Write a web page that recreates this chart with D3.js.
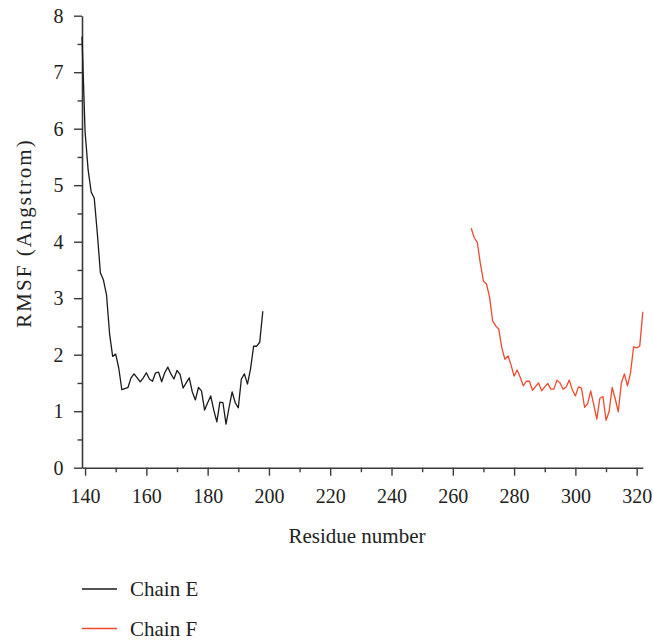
<!DOCTYPE html>
<html>
<head>
<meta charset="utf-8">
<script src="https://cdn.jsdelivr.net/npm/d3@7"></script>
<style>
  html, body { margin: 0; padding: 0; background: #fff; }
  svg { display: block; }
  text { font-family: "Liberation Serif", "DejaVu Serif", serif; fill: #222; }
</style>
</head>
<body>
<svg id="chart" width="653" height="642"></svg>
<script>
// RMSF per residue for each chain (Angstrom)
const chainEStart = 139;
const chainEValues = [
  7.63, 5.95, 5.27, 4.88, 4.77, 4.15, 3.45, 3.32, 3.06, 2.37,
  1.97, 2.01, 1.76, 1.38, 1.40, 1.42, 1.59, 1.66, 1.59, 1.52,
  1.59, 1.68, 1.57, 1.53, 1.68, 1.69, 1.52, 1.68, 1.78, 1.66,
  1.57, 1.72, 1.65, 1.41, 1.50, 1.59, 1.34, 1.20, 1.42, 1.36,
  1.02, 1.15, 1.27, 1.02, 0.81, 1.16, 1.15, 0.77, 1.07, 1.34,
  1.15, 1.06, 1.57, 1.66, 1.48, 1.75, 2.15, 2.15, 2.22, 2.77
];
const chainFStart = 266;
const chainFValues = [
  4.24, 4.07, 3.99, 3.61, 3.30, 3.25, 3.02, 2.60, 2.51, 2.45,
  2.12, 1.92, 1.98, 1.82, 1.62, 1.73, 1.60, 1.45, 1.53, 1.53,
  1.37, 1.44, 1.50, 1.36, 1.43, 1.49, 1.39, 1.39, 1.55, 1.50,
  1.39, 1.43, 1.55, 1.38, 1.27, 1.43, 1.41, 1.07, 1.13, 1.36,
  1.11, 0.86, 1.23, 1.26, 0.84, 0.99, 1.42, 1.22, 0.99, 1.50,
  1.66, 1.45, 1.68, 2.14, 2.12, 2.15, 2.76
];
const xTicks = [140, 160, 180, 200, 220, 240, 260, 280, 300, 320];
const xMinorTicks = [150, 170, 190, 210, 230, 250, 270, 290, 310];
const yTicks = [0, 1, 2, 3, 4, 5, 6, 7, 8];
const yMinorTicks = [0.5, 1.5, 2.5, 3.5, 4.5, 5.5, 6.5, 7.5];
const seriesNames = ["Chain E", "Chain F"];
const seriesColors = ["#1a1a1a", "#f04a2c"];

const toPoints = (start, vals) => vals.map((v, i) => ({ res: start + i, v }));
const series = [
  toPoints(chainEStart, chainEValues),
  toPoints(chainFStart, chainFValues)
];

const svg = d3.select("#chart");
const plotLeft = 82, plotRight = 642.8, plotTop = 15.7, plotBottom = 467.7;

const x = d3.scaleLinear().domain([139, 322]).range([plotLeft, plotRight]);
const y = d3.scaleLinear().domain([0, 8]).range([plotBottom, plotTop]);

const axisColor = "#3a3a3a";
const tickFontSize = 20;
const titleFontSize = 21;

// minor ticks
svg.append("g")
  .attr("transform", `translate(0,${plotBottom})`)
  .call(d3.axisBottom(x).tickValues(xMinorTicks).tickSize(4.5).tickFormat(""))
  .call(g => g.select(".domain").remove())
  .call(g => g.selectAll("line").attr("stroke", axisColor).attr("stroke-width", 1.4));
svg.append("g")
  .attr("transform", `translate(${plotLeft},0)`)
  .call(d3.axisLeft(y).tickValues(yMinorTicks).tickSize(4.5).tickFormat(""))
  .call(g => g.select(".domain").remove())
  .call(g => g.selectAll("line").attr("stroke", axisColor).attr("stroke-width", 1.4));

// major axes
const xAxis = svg.append("g")
  .attr("transform", `translate(0,${plotBottom})`)
  .call(d3.axisBottom(x).tickValues(xTicks).tickSize(8).tickSizeOuter(0).tickPadding(13));
const yAxis = svg.append("g")
  .attr("transform", `translate(${plotLeft},0)`)
  .call(d3.axisLeft(y).tickValues(yTicks).tickSize(8).tickSizeOuter(0).tickPadding(10.5));

[xAxis, yAxis].forEach(g => {
  g.select(".domain").attr("stroke", axisColor).attr("stroke-width", 1.6);
  g.selectAll(".tick line").attr("stroke", axisColor).attr("stroke-width", 1.4);
  g.selectAll(".tick text")
    .attr("font-family", "Liberation Serif, DejaVu Serif, serif")
    .attr("font-size", tickFontSize)
    .attr("fill", "#222");
});

// series lines
const line = d3.line().x(d => x(d.res)).y(d => y(d.v));
series.forEach((pts, i) => {
  svg.append("path")
    .datum(pts)
    .attr("fill", "none")
    .attr("stroke", seriesColors[i])
    .attr("stroke-width", 1.3)
    .attr("stroke-linejoin", "round")
    .attr("d", line);
});

// axis titles
svg.append("text")
  .attr("x", 357)
  .attr("y", 543)
  .attr("text-anchor", "middle")
  .attr("font-size", titleFontSize)
  .text("Residue number");

svg.append("text")
  .attr("transform", `translate(31,233) rotate(-90)`)
  .attr("text-anchor", "middle")
  .attr("font-size", titleFontSize)
  .attr("letter-spacing", 2)
  .text("RMSF (Angstrom)");

// legend
const legend = svg.append("g");
seriesNames.forEach((name, i) => {
  const ly = 589 + i * 39.5;
  legend.append("line")
    .attr("x1", 82).attr("x2", 117)
    .attr("y1", ly).attr("y2", ly)
    .attr("stroke", seriesColors[i])
    .attr("stroke-width", 1.5);
  legend.append("text")
    .attr("x", 130)
    .attr("y", ly + 7)
    .attr("font-size", titleFontSize)
    .text(name);
});
</script>
</body>
</html>
